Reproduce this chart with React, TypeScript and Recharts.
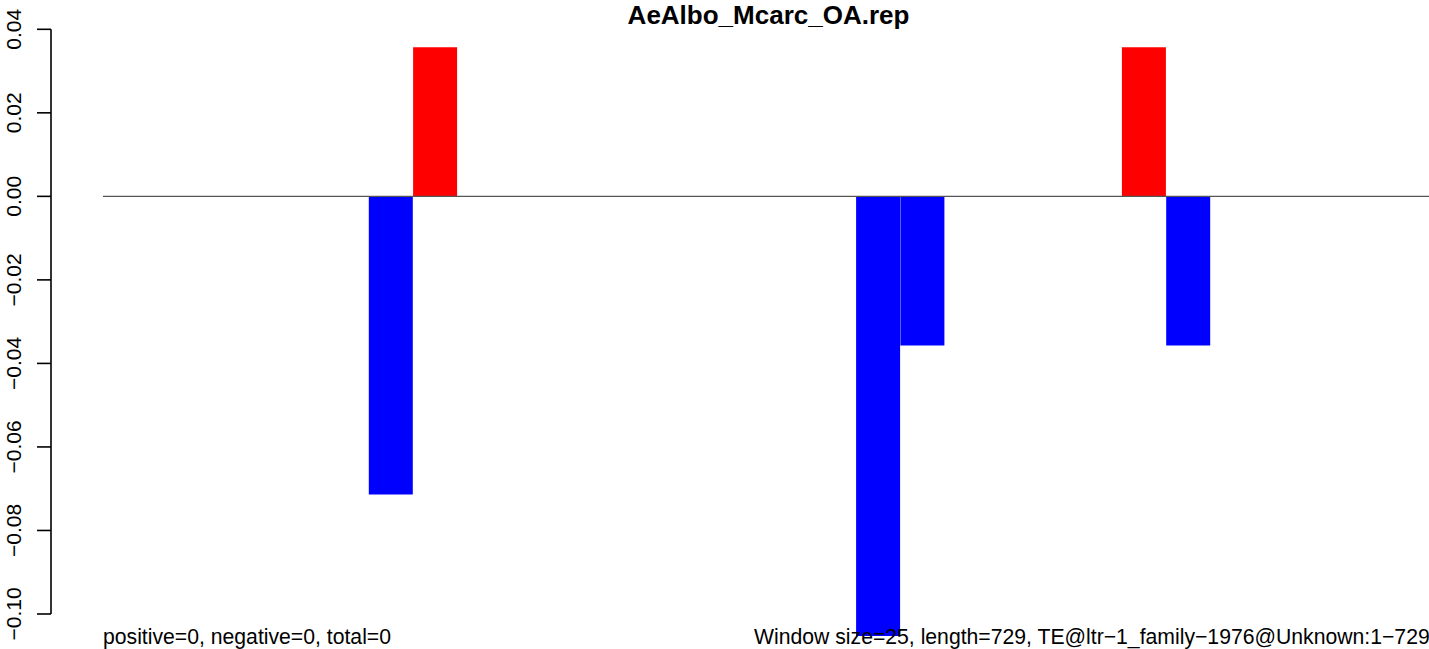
import { BarChart, Bar, XAxis, YAxis, ReferenceLine, Cell } from "recharts";

// one value per 25-bp window (30 windows over 729 bp)
const windowIds = [
  1, 2, 3, 4, 5, 6, 7, 8, 9, 10, 11, 12, 13, 14, 15,
  16, 17, 18, 19, 20, 21, 22, 23, 24, 25, 26, 27, 28, 29, 30,
];
const scores = [
  0, 0, 0, 0, 0, 0, -0.0714, 0.0357, 0, 0, 0, 0, 0, 0, 0,
  0, 0, -0.1071, -0.0357, 0, 0, 0, 0, 0.0357, -0.0357, 0, 0, 0, 0, 0,
];
const yTicks = [0.04, 0.02, 0, -0.02, -0.04, -0.06, -0.08, -0.1];

const title = "AeAlbo_Mcarc_OA.rep";
const leftNote = "positive=0, negative=0, total=0";
const rightNote = "Window size=25, length=729, TE@ltr\u22121_family\u22121976@Unknown:1\u2212729";

const rows = windowIds.map((w, i) => ({ win: w, val: scores[i] }));

const FONT = '"Liberation Sans", Arial, Helvetica, sans-serif';
const X_MIN = -0.6738;
const X_MAX = 31.719;

const fmt = (v: number) => {
  const s = Math.abs(v).toFixed(2);
  return v < 0 ? "\u2212" + s : s;
};

function YTick(props: any) {
  const { y, payload } = props;
  const x = 21.5;
  return (
    <text
      x={x}
      y={y}
      transform={`rotate(-90, ${x}, ${y})`}
      textAnchor="middle"
      fontSize={21}
      fontFamily={FONT}
      fill="#000"
    >
      {fmt(payload.value)}
    </text>
  );
}

export default function App() {
  return (
    <div
      style={{
        position: "fixed",
        left: 0,
        top: 0,
        width: 1429,
        height: 649,
        overflow: "hidden",
        background: "#fff",
        fontFamily: FONT,
      }}
    >
      <BarChart
        width={1486}
        height={649}
        data={rows}
        margin={{ top: 6, right: 0, bottom: 13, left: 0 }}
        barCategoryGap={0}
        barGap={0}
      >
        <XAxis dataKey="win" type="number" domain={[X_MIN, X_MAX]} allowDataOverflow hide />
        <YAxis
          width={51}
          domain={[-0.10527, 0.04558]}
          ticks={yTicks}
          interval={0}
          allowDataOverflow
          axisLine={false}
          tickLine={{ stroke: "#000", strokeWidth: 1.6 }}
          tickSize={14}
          tick={<YTick />}
        />
        <ReferenceLine
          segment={[{ x: 0.5, y: 0 }, { x: X_MAX, y: 0 }]}
          stroke="#555"
          strokeWidth={1.3}
          ifOverflow="visible"
        />
        <ReferenceLine
          segment={[{ x: X_MIN, y: 0.04 }, { x: X_MIN, y: -0.1 }]}
          stroke="#000"
          strokeWidth={1.6}
          ifOverflow="visible"
        />
        <Bar dataKey="val" isAnimationActive={false}>
          {rows.map((r, i) => (
            <Cell key={i} fill={r.val >= 0 ? "#ff0000" : "#0000ff"} />
          ))}
        </Bar>
      </BarChart>
      <div
        style={{
          position: "absolute",
          left: 51,
          top: 2,
          width: 1435,
          textAlign: "center",
          fontSize: 26,
          fontWeight: "bold",
          lineHeight: 1,
          color: "#000",
          whiteSpace: "nowrap",
        }}
      >
        {title}
      </div>
      <div style={{ position: "absolute", left: 103, top: 626, fontSize: 21.2, lineHeight: 1, whiteSpace: "nowrap" }}>
        {leftNote}
      </div>
      <div style={{ position: "absolute", left: 754, top: 626, fontSize: 21.2, lineHeight: 1, whiteSpace: "nowrap" }}>
        {rightNote}
      </div>
    </div>
  );
}
